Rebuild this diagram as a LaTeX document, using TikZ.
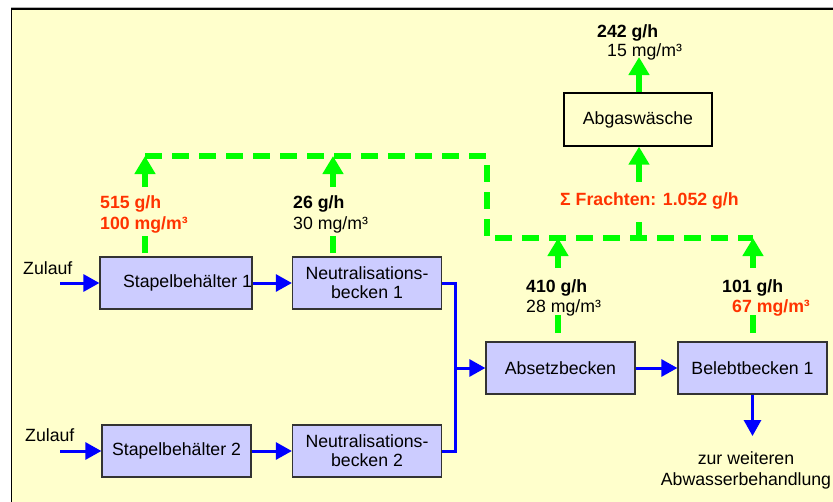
\documentclass[tikz,border=0pt]{standalone}
\usepackage{fontspec}
\setmainfont{Liberation Sans}
\usetikzlibrary{arrows.meta}
\definecolor{paper}{HTML}{FFFFCC}
\definecolor{tank}{HTML}{CCCCFF}
\definecolor{flow}{HTML}{0000FF}
\definecolor{gas}{HTML}{00FF00}
\definecolor{alert}{HTML}{FF3300}
\definecolor{edge}{HTML}{333333}

\begin{document}
\begin{tikzpicture}[x=1pt,y=-1pt,
  txt/.style={font=\fontsize{17.7}{19}\selectfont, inner sep=0pt},
  val/.style={txt, anchor=base west},
  load/.style={val, font=\fontsize{17.7}{19}\selectfont\bfseries},
  unit/.style={draw=edge, line width=1.3pt, fill=tank, minimum width=149pt,
    minimum height=52pt, align=center, inner sep=0pt,
    font=\fontsize{17.7}{19}\selectfont},
  water/.style={draw=flow, line width=3pt, -{Triangle[width=17pt,length=16pt]}},
  waterline/.style={draw=flow, line width=3pt},
  gasarrow/.style={draw=gas, line width=5.5pt, -{Triangle[width=20pt,length=18pt]}},
  gasduct/.style={draw=gas, line width=5.5pt, dash pattern=on 17pt off 10pt},
  gasstub/.style={draw=gas, line width=5.5pt}
]
\useasboundingbox (0,0) rectangle (833,501);
\fill[white] (0,0) rectangle (833,501);
% framed panel
\draw[gray!60, line width=1pt] (11,7.6) -- (845,7.6);
\draw[black, line width=1.2pt, fill=paper] (11.5,9) rectangle (850,515);

% process units
\node[unit] (s1) at (176,283) {\hspace*{23pt}Stapelbehälter 1};
\node[unit] (n1) at (367,283) {Neutralisations-\\becken 1};
\node[unit] (s2) at (176.5,451) {Stapelbehälter 2};
\node[unit] (n2) at (367,451) {Neutralisations-\\becken 2};
\node[unit] (ab) at (560.5,368) {Absetzbecken};
\node[unit] (bb) at (752.5,368) {Belebtbecken 1};
\node[unit, fill=none, draw=black, minimum width=148pt, minimum height=53pt] (aw) at (638,119.5) {Abgaswäsche};

% water path
\node[val] (z1) at (23,274) {Zulauf};
\node[val] (z2) at (25,441) {Zulauf};
\coordinate (in1) at (60,283);
\coordinate (in2) at (60,451);
\coordinate (mix) at (455,368);
\coordinate (out) at (752.5,436);
\draw[water] (in1) -- (s1);
\draw[water] (s1) -- (n1);
\draw[water] (in2) -- (s2);
\draw[water] (s2) -- (n2);
\draw[waterline] (n1.east) -| (mix) |- (n2.east);
\draw[water] (mix) -- (ab);
\draw[water] (ab) -- (bb);
\draw[water] (bb.south) -- (out);
\node[txt, anchor=base] (rest1) at (746,464) {zur weiteren};
\node[txt, anchor=base] (rest2) at (746,485) {Abwasserbehandlung};

% exhaust air collector
\coordinate (g1) at (145,156);
\coordinate (g2) at (487,156);
\coordinate (g3) at (487,238);
\coordinate (g4) at (753,238);
\coordinate (g5) at (639,238);
\coordinate (g6) at (639,222);
\draw[gasduct] (g1) -- (g2) -- (g3) -- (g4);
\draw[gasstub] (g5) -- (g6);

% risers from the units
\coordinate (r1a) at (145,253); \coordinate (r1b) at (145,236); \coordinate (r1c) at (145,187);
\coordinate (r2a) at (333,253); \coordinate (r2b) at (333,236); \coordinate (r2c) at (333,187);
\coordinate (t2) at (333,156);
\coordinate (r3a) at (558,333); \coordinate (r3b) at (558,315); \coordinate (r3c) at (558,268);
\coordinate (t3) at (558,238);
\coordinate (r4a) at (753,333); \coordinate (r4b) at (753,315); \coordinate (r4c) at (753,268);
\draw[gasstub] (r1a) -- (r1b);
\draw[gasarrow] (r1c) -- (g1);
\draw[gasstub] (r2a) -- (r2b);
\draw[gasarrow] (r2c) -- (t2);
\draw[gasstub] (r3a) -- (r3b);
\draw[gasarrow] (r3c) -- (t3);
\draw[gasstub] (r4a) -- (r4b);
\draw[gasarrow] (r4c) -- (g4);

% scrubber feed and exhaust
\coordinate (r5) at (639,182);
\coordinate (t6) at (639,57);
\draw[gasarrow] (r5) -- (aw.south -| r5);
\draw[gasarrow] (aw.north -| t6) -- (t6);

% loads
\node[load, text=alert] (l1a) at (100,208) {515 g/h};
\node[load, text=alert] (l1b) at (100,229) {100 mg/m³};
\node[load] (l2a) at (293,208) {26 g/h};
\node[val] (l2b) at (293,229) {30 mg/m³};
\node[load] (l3a) at (526,292) {410 g/h};
\node[val] (l3b) at (526,312) {28 mg/m³};
\node[load] (l4a) at (722,292) {101 g/h};
\node[load, text=alert] (l4b) at (732,312) {67 mg/m³};
\node[load] (l5a) at (597,37) {242 g/h};
\node[val] (l5b) at (607,56) {15 mg/m³};
\node[load, text=alert] (sum) at (560,205) {Σ Frachten: 1.052 g/h};
\end{tikzpicture}
\end{document}
